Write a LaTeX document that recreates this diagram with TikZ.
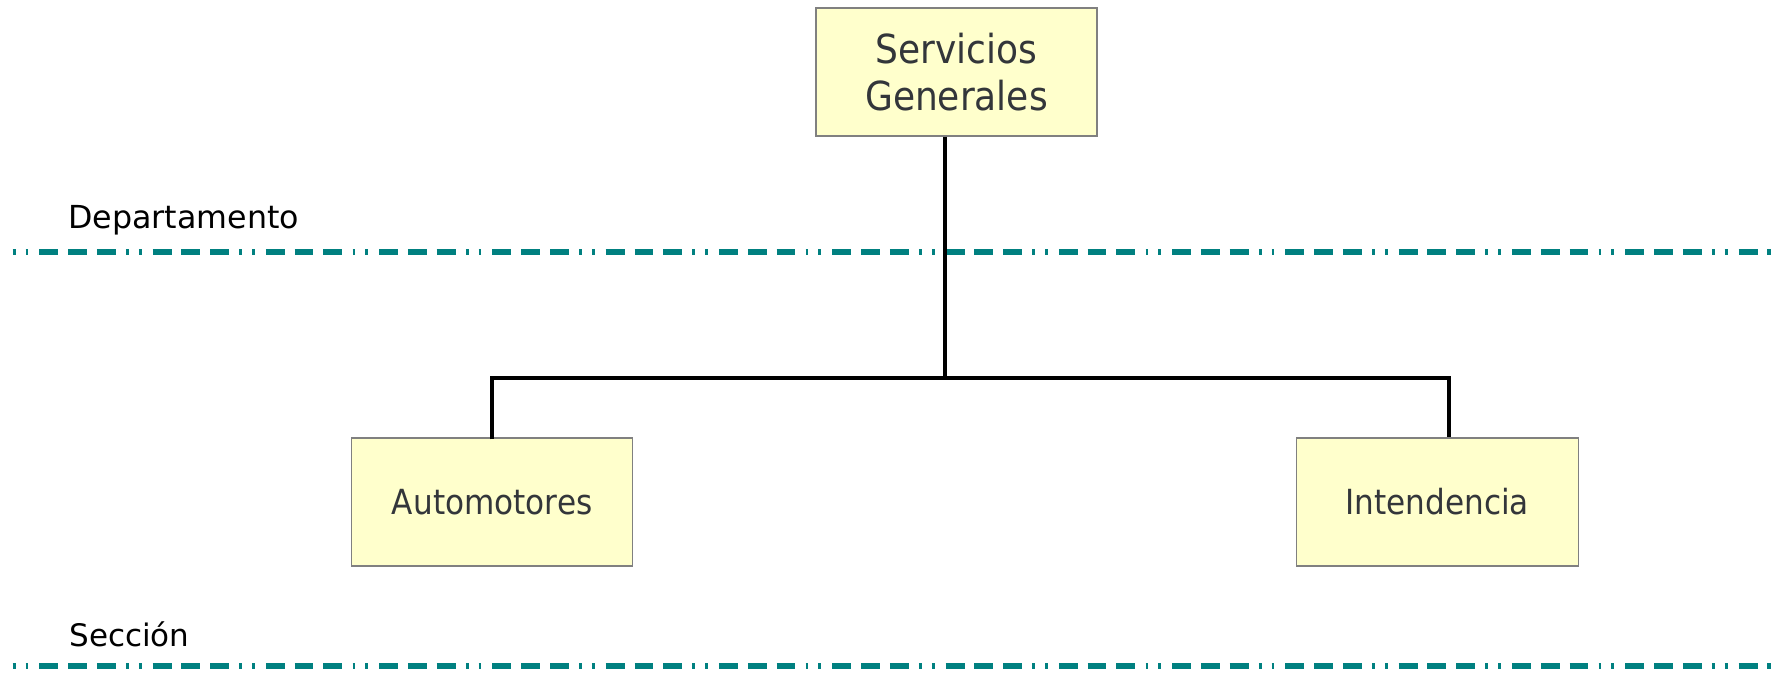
\documentclass[tikz,border=0pt]{standalone}
\usepackage{fontspec}
\setmainfont{DejaVu Sans}
\newfontfamily\boxfont[FakeStretch=0.9]{DejaVu Sans}
\definecolor{boxfill}{HTML}{FFFFCC}
\definecolor{boxline}{HTML}{808080}
\definecolor{boxtext}{HTML}{33363A}
\definecolor{teal}{HTML}{008080}
\tikzset{
  orgbox/.style={draw=boxline, line width=0.6pt, fill=boxfill, text=boxtext,
    minimum width=140.5pt, minimum height=64pt, inner sep=0pt, align=center},
  conn/.style={line width=2pt, black},
  level/.style={line width=3.2pt, teal, line cap=butt,
    dash pattern=on 1.4pt off 5pt on 1.4pt off 5.5pt on 9.5pt off 4.9pt on 9.4pt off 5pt on 9.4pt off 5.14pt},
  levellabel/.style={anchor=base west, inner sep=0pt}
}
\begin{document}
\begin{tikzpicture}[x=0.5pt, y=-0.5pt]
\useasboundingbox (0,0) rectangle (1771,675);
% boxes
\node[orgbox, font=\boxfont\fontsize{20pt}{23.5pt}\selectfont] (sg) at (956.5,72) {Servicios\\Generales};
\node[orgbox, font=\boxfont\fontsize{17.3pt}{20pt}\selectfont] (auto) at (492.2,502) {Automotores};
\node[orgbox, minimum width=141pt, font=\boxfont\fontsize{17.3pt}{20pt}\selectfont] (int) at (1437.2,502) {Intendencia};
% level lines
\coordinate (d1) at (12.7,251.7);
\coordinate (d2) at (1771,251.7);
\coordinate (s1) at (12.7,666);
\coordinate (s2) at (1771,666);
\draw[level] (d1) -- (d2);
\draw[level] (s1) -- (s2);
\node[levellabel, font=\fontsize{15.85pt}{18pt}\selectfont] (dep) at (68,228) {Departamento};
\node[levellabel, font=\fontsize{15.5pt}{18pt}\selectfont] (sec) at (69,646.7) {Sección};
% connectors
\coordinate (bus) at (945,378.3);
\draw[conn] ([xshift=-5.75pt]sg.south) -- (bus);
\draw[conn] ([yshift=-1pt]auto.north) |- (bus) -| ([xshift=6pt]int.north);
\end{tikzpicture}
\end{document}
